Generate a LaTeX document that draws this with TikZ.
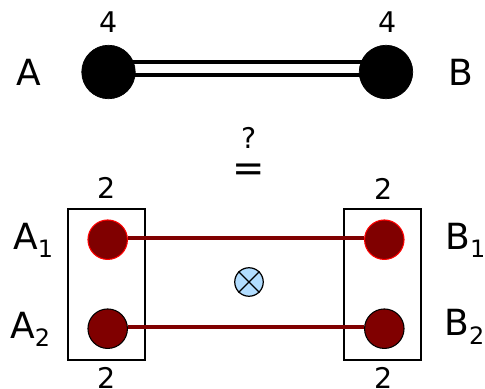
\documentclass[tikz,border=0pt]{standalone}
\usepackage{fontspec}
\usetikzlibrary{backgrounds}
\setmainfont{DejaVu Sans}
\newcommand{\sublabel}[2]{#1\raisebox{-4.6pt}{\fontsize{13.6}{14}\selectfont #2}}
\begin{document}
\begin{tikzpicture}[x=0.02cm, y=-0.02cm,
  bignode/.style={circle, fill=black, draw=black, minimum size=1.07cm, inner sep=0pt},
  rednode/.style={circle, fill=red!50!black, draw=red, line width=0.6pt, minimum size=0.79cm, inner sep=0pt},
  darknode/.style={circle, fill=red!50!black, draw=black, line width=0.6pt, minimum size=0.79cm, inner sep=0pt},
  groupbox/.style={rectangle, draw=black, line width=1.1pt, minimum width=1.53cm, minimum height=3.02cm, inner sep=0pt},
  bond/.style={draw=red!50!black, line width=2.4pt},
  namelabel/.style={font=\fontsize{20.5}{24}\selectfont, inner sep=0pt},
  numlabel/.style={font=\fontsize{16.2}{18}\selectfont, inner sep=0pt},
  crossnode/.style={circle, fill=blue!45!cyan!30, draw=black, line width=0.7pt, minimum size=0.57cm, inner sep=0pt}]
\useasboundingbox (0,0) rectangle (485,389);

\node[bignode] (a) at (108.5, 72) {};
\node[bignode] (b) at (386, 72) {};
\begin{pgfonlayer}{background}
\draw[black, line width=2.3pt, double=white, double distance=5.2pt] ([yshift=2pt]a.center) -- ([yshift=2pt]b.center);
\end{pgfonlayer}

\node[namelabel] (labela) at (29, 72) {A};
\node[namelabel] (labelb) at (461, 72) {B};
\node[numlabel] (numa) at (108.5, 22) {4};
\node[numlabel] (numb) at (388, 22) {4};

\node[numlabel] (query) at (249, 138) {?};
\node[font=\fontsize{22}{26}\selectfont, inner sep=0pt] (equal) at (249, 172.5) {=};

\node[groupbox] (boxa) at (106.7, 284.6) {};
\node[groupbox] (boxb) at (382.7, 284.6) {};

\node[rednode] (aone) at (107.7, 239.7) {};
\node[darknode] (atwo) at (107.7, 328.7) {};
\node[rednode] (bone) at (384.3, 239.7) {};
\node[darknode] (btwo) at (384.3, 328.7) {};

\draw[bond] ([yshift=1pt]aone.east) -- ([yshift=1pt]bone.west);
\draw[bond] ([yshift=1pt]atwo.east) -- ([yshift=1pt]btwo.west);

\node[crossnode] (cross) at (249, 282) {};
\draw[black, line width=0.7pt] (cross.45) -- (cross.225);
\draw[black, line width=0.7pt] (cross.135) -- (cross.315);

\node[namelabel, anchor=base west] (labelaone) at (13, 249) {\sublabel{A}{1}};
\node[namelabel, anchor=base west] (labelatwo) at (10, 338) {\sublabel{A}{2}};
\node[namelabel, anchor=base west] (labelbone) at (445, 249) {\sublabel{B}{1}};
\node[namelabel, anchor=base west] (labelbtwo) at (444, 336) {\sublabel{B}{2}};

\node[numlabel] (numatop) at (106.7, 188) {2};
\node[numlabel] (numabot) at (106.7, 378) {2};
\node[numlabel] (numbtop) at (384, 189) {2};
\node[numlabel] (numbbot) at (384, 378) {2};
\end{tikzpicture}
\end{document}
